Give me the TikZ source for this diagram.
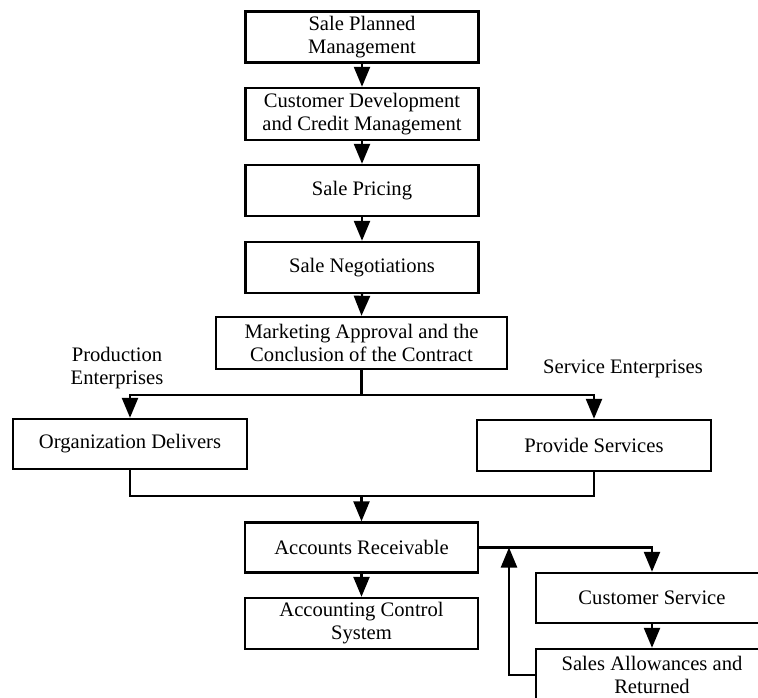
\documentclass[tikz,border=0pt]{standalone}
\usepackage{fontspec}
\setmainfont{Liberation Serif}
\usetikzlibrary{arrows.meta}
\begin{document}
\begin{tikzpicture}[x=1pt,y=-1pt,
  every node/.style={font=\fontsize{20.6}{23}\selectfont},
  box/.style={draw,line width=2.4pt,rectangle,inner sep=0pt,align=center,minimum width=233pt},
  conn/.style={line width=2.4pt},
  arr/.style={line width=2.4pt,-{Triangle[width=16pt,length=20pt]}},
  lbl/.style={align=center,inner sep=0pt}]
\useasboundingbox (0,0) rectangle (758,698);
\clip (0,0) rectangle (758,698);
\node[box,minimum height=51pt] (b1) at (362,37) {Sale Planned\\Management};
\node[box,minimum height=52pt] (b2) at (362,114) {Customer Development\\and Credit Management};
\node[box,minimum height=51pt] (b3) at (362,190.5) {Sale Pricing};
\node[box,minimum height=51pt] (b4) at (362,267.5) {Sale Negotiations};
\node[box,minimum height=52pt,minimum width=291pt] (b5) at (361.5,343) {Marketing Approval and the\\Conclusion of the Contract};
\node[box,minimum height=50pt,minimum width=234pt] (od) at (130,444) {Organization Delivers};
\node[box,minimum height=51pt,minimum width=234pt] (ps) at (594,445.5) {Provide Services};
\node[box,minimum height=50pt] (ar) at (361.5,547.5) {Accounts Receivable};
\node[box,minimum height=51pt] (acs) at (361.5,623.5) {Accounting Control\\System};
\node[box,minimum height=50pt,minimum width=232pt] (cs) at (652,598) {Customer Service};
\node[box,minimum height=52pt,minimum width=232pt] (sa) at (652,675) {Sales Allowances and\\Returned};
\node[lbl] (pe) at (117,368.5) {Production\\Enterprises};
\node[lbl] (se) at (623,369) {Service Enterprises};
\coordinate (split) at (361.5,395);
\coordinate (merge) at (361.5,496);
\coordinate (fb) at (509,547.5);
\draw[arr] (b1.south) -- (b2.north);
\draw[arr] (b2.south) -- (b3.north);
\draw[arr] (b3.south) -- (b4.north);
\draw[arr] (b4.south) -- (b5.north);
\draw[conn] (b5.south) -- (split);
\draw[arr] (split) -| (od.north);
\draw[arr] (split) -| (ps.north);
\draw[conn] (od.south) |- (merge) -| (ps.south);
\draw[arr] (merge) -- (ar.north);
\draw[arr] (ar.south) -- (acs.north);
\draw[arr] (ar.east) -| (cs.north);
\draw[arr] (cs.south) -- (sa.north);
\draw[arr] (sa.west) -| (fb);
\end{tikzpicture}
\end{document}
